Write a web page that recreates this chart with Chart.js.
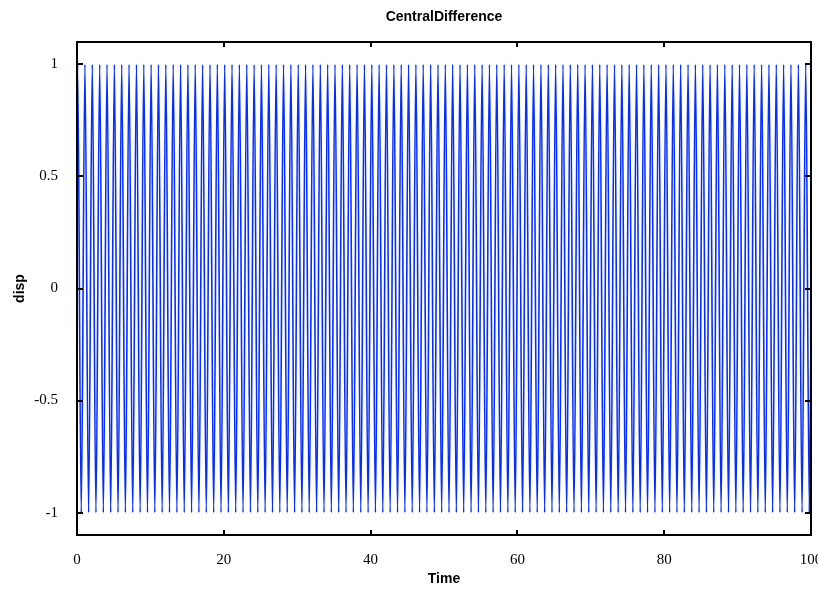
<!DOCTYPE html>
<html>
<head>
<meta charset="utf-8">
<script src="https://cdn.jsdelivr.net/npm/chart.js@4.4.1/dist/chart.umd.min.js"></script>
<style>
  html, body { margin: 0; padding: 0; background: #fff; }
  canvas { display: block; }
</style>
</head>
<body>
<canvas id="chart" width="818" height="589"></canvas>
<script>
// Werte: Zeitpunkte der Maxima (disp = 1) und Minima (disp = -1)
const peakTimes = [
  0.08, 1.08, 2.08, 3.09, 4.09, 5.09, 6.09, 7.09, 8.10, 9.10,
  10.10, 11.10, 12.10, 13.11, 14.11, 15.11, 16.11, 17.11, 18.12, 19.12,
  20.12, 21.12, 22.12, 23.13, 24.13, 25.13, 26.13, 27.13, 28.14, 29.14,
  30.14, 31.14, 32.14, 33.15, 34.15, 35.15, 36.15, 37.15, 38.16, 39.16,
  40.16, 41.16, 42.16, 43.17, 44.17, 45.17, 46.17, 47.17, 48.18, 49.18,
  50.18, 51.18, 52.18, 53.19, 54.19, 55.19, 56.19, 57.19, 58.20, 59.20,
  60.20, 61.20, 62.20, 63.21, 64.21, 65.21, 66.21, 67.21, 68.22, 69.22,
  70.22, 71.22, 72.22, 73.23, 74.23, 75.23, 76.23, 77.23, 78.24, 79.24,
  80.24, 81.24, 82.24, 83.25, 84.25, 85.25, 86.25, 87.25, 88.26, 89.26,
  90.26, 91.26, 92.26, 93.27, 94.27, 95.27, 96.27, 97.27, 98.28, 99.28
];
const troughTimes = [
  0.58, 1.58, 2.58, 3.59, 4.59, 5.59, 6.59, 7.59, 8.60, 9.60,
  10.60, 11.60, 12.60, 13.61, 14.61, 15.61, 16.61, 17.61, 18.62, 19.62,
  20.62, 21.62, 22.62, 23.63, 24.63, 25.63, 26.63, 27.63, 28.64, 29.64,
  30.64, 31.64, 32.64, 33.65, 34.65, 35.65, 36.65, 37.65, 38.66, 39.66,
  40.66, 41.66, 42.66, 43.67, 44.67, 45.67, 46.67, 47.67, 48.68, 49.68,
  50.68, 51.68, 52.68, 53.69, 54.69, 55.69, 56.69, 57.69, 58.70, 59.70,
  60.70, 61.70, 62.70, 63.71, 64.71, 65.71, 66.71, 67.71, 68.72, 69.72,
  70.72, 71.72, 72.72, 73.73, 74.73, 75.73, 76.73, 77.73, 78.74, 79.74,
  80.74, 81.74, 82.74, 83.75, 84.75, 85.75, 86.75, 87.75, 88.76, 89.76,
  90.76, 91.76, 92.76, 93.77, 94.77, 95.77, 96.77, 97.77, 98.78, 99.78
];
const peakDisp = 1;
const troughDisp = -1;
const startPoint = [0, 0.81];     // Zeit, disp
const endPoint = [100, -0.2];

const xTicks = [0, 20, 40, 60, 80, 100];
const yTicks = [-1, -0.5, 0, 0.5, 1];

// Punkte der Kurve zusammensetzen (Maxima und Minima abwechselnd)
const points = [{ x: startPoint[0], y: startPoint[1] }];
peakTimes.forEach((t, i) => {
  points.push({ x: t, y: peakDisp });
  points.push({ x: troughTimes[i], y: troughDisp });
});
points.push({ x: endPoint[0], y: endPoint[1] });

// Rahmen mit nach innen zeigenden Ticks
const framePlugin = {
  id: 'frame',
  afterDraw(chart) {
    const { ctx, chartArea: a, scales } = chart;
    ctx.save();
    ctx.strokeStyle = '#000';
    ctx.lineWidth = 2;
    ctx.strokeRect(a.left, a.top, a.right - a.left, a.bottom - a.top);
    ctx.beginPath();
    xTicks.forEach(v => {
      const px = Math.round(scales.x.getPixelForValue(v));
      ctx.moveTo(px, a.bottom); ctx.lineTo(px, a.bottom - 5);
      ctx.moveTo(px, a.top); ctx.lineTo(px, a.top + 5);
    });
    yTicks.forEach(v => {
      const py = Math.round(scales.y.getPixelForValue(v));
      ctx.moveTo(a.left, py); ctx.lineTo(a.left + 6, py);
      ctx.moveTo(a.right, py); ctx.lineTo(a.right - 6, py);
    });
    ctx.stroke();
    ctx.restore();
  }
};

const tickFont = { family: '"Liberation Serif", "Times New Roman", serif', size: 15 };
const labelFont = { family: '"Liberation Sans", Arial, sans-serif', size: 14, weight: 'bold' };

new Chart(document.getElementById('chart').getContext('2d'), {
  type: 'line',
  data: {
    datasets: [{
      label: 'disp',
      data: points,
      borderColor: 'rgb(5, 45, 255)',
      borderWidth: 1.6,
      pointRadius: 0,
      fill: false,
      cubicInterpolationMode: 'monotone'
    }]
  },
  options: {
    responsive: false,
    animation: false,
    events: [],
    layout: { padding: { left: 0, right: 7, top: 0, bottom: 0 } },
    plugins: {
      legend: { display: false },
      tooltip: { enabled: false },
      title: {
        display: true,
        fullSize: false,   // über der Zeichenfläche zentriert
        text: 'CentralDifference',
        color: '#000',
        font: labelFont,
        padding: { top: 8.6, bottom: 16.6 }
      }
    },
    scales: {
      x: {
        type: 'linear',
        min: 0,
        max: 100,
        grid: { display: false },
        border: { display: false },
        afterBuildTicks: s => { s.ticks = xTicks.map(v => ({ value: v })); },
        afterFit: s => { s.height = 54; s.paddingLeft = 0; s.paddingRight = 0; },
        ticks: {
          color: '#000',
          font: tickFont,
          padding: 8,
          maxRotation: 0,
          autoSkip: false,
          callback: v => String(v)
        },
        title: {
          display: true,
          text: 'Time',
          color: '#000',
          font: labelFont,
          padding: { top: 0, bottom: 1.6 }
        }
      },
      y: {
        type: 'linear',
        min: -1.1,
        max: 1.1,
        grid: { display: false },
        border: { display: false },
        afterBuildTicks: s => { s.ticks = yTicks.map(v => ({ value: v })); },
        afterFit: s => { s.width = 77; s.paddingTop = 0; s.paddingBottom = 0; },
        ticks: {
          color: '#000',
          font: tickFont,
          padding: 11,
          autoSkip: false,
          callback: v => String(v)
        },
        title: {
          display: true,
          text: 'disp',
          color: '#000',
          font: labelFont,
          padding: { top: 11.6, bottom: 0 }
        }
      }
    }
  },
  plugins: [framePlugin]
});
</script>
</body>
</html>
